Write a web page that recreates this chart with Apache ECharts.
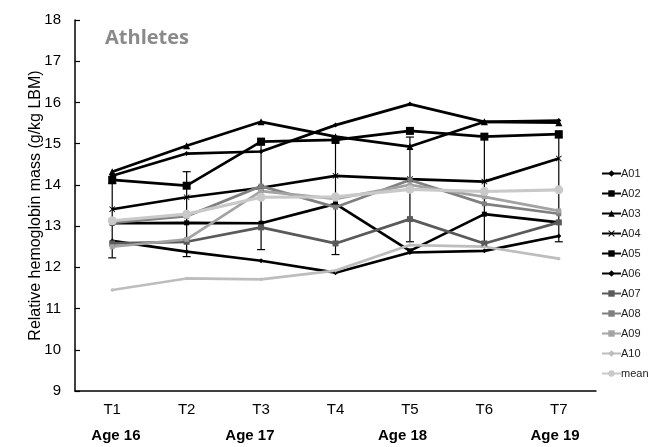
<!DOCTYPE html>
<html>
<head>
<meta charset="utf-8">
<script src="https://cdn.jsdelivr.net/npm/echarts@6/dist/echarts.min.js"></script>
<style>
  html, body { margin: 0; padding: 0; background: #fff; }
  #chart { width: 663px; height: 447px; }
</style>
</head>
<body>
<div id="chart"></div>
<script>
// Test occasions
const timepoints = ['T1', 'T2', 'T3', 'T4', 'T5', 'T6', 'T7'];
// Age captions under the axis and their position in category units
const ageNames = ['Age 16', 'Age 17', 'Age 18', 'Age 19'];
const agePositions = [0.05, 1.85, 3.9, 5.95];

// Relative hemoglobin mass per athlete (g/kg LBM)
const A01 = [14.22, 14.76, 14.81, 15.45, 15.96, 15.53, 15.56];
const A02 = [13.07, 13.08, 13.07, 13.54, 12.40, 13.29, 13.09];
const A03 = [14.32, 14.95, 15.53, 15.17, 14.93, 15.53, 15.51];
const A04 = [13.41, 13.70, 13.93, 14.22, 14.14, 14.08, 14.64];
const A05 = [14.12, 13.98, 15.05, 15.09, 15.31, 15.17, 15.23];
const A06 = [12.64, 12.38, 12.16, 11.87, 12.36, 12.40, 12.76];
const A07 = [12.58, 12.62, 12.97, 12.58, 13.17, 12.58, 13.09];
const A08 = [13.08, 13.24, 13.97, 13.46, 14.12, 13.54, 13.30];
const A09 = [12.50, 12.68, 13.85, 13.66, 14.00, 13.71, 13.37];
const A10 = [11.45, 11.73, 11.71, 11.92, 12.54, 12.50, 12.21];
const meanValues = [13.13, 13.29, 13.70, 13.71, 13.89, 13.84, 13.88];
const meanSD = [0.90, 1.03, 1.27, 1.40, 1.27, 1.35, 1.26];

const yTicks = [9, 18, 1]; // min, max, step

const athleteStyles = [
  ['A01', A01, '#000000', 'diamond', 5],
  ['A02', A02, '#000000', 'rect', 5],
  ['A03', A03, '#000000', 'triangle', 7],
  ['A04', A04, '#000000', 'path://M1,0L5,4L9,0L10,1L6,5L10,9L9,10L5,6L1,10L0,9L4,5L0,1Z', 6],
  ['A05', A05, '#000000', 'rect', 8],
  ['A06', A06, '#000000', 'diamond', 5],
  ['A07', A07, '#5a5a5a', 'path://M0,0H10V3H0Z', 6],
  ['A08', A08, '#7f7f7f', 'rect', 5],
  ['A09', A09, '#a3a3a3', 'rect', 5],
  ['A10', A10, '#bdbdbd', 'diamond', 4]
];

const series = athleteStyles.map(([name, data, color, symbol, size]) => ({
  name, type: 'line', data,
  symbol, symbolSize: size,
  lineStyle: { color, width: 2.7 },
  itemStyle: { color },
  z: 3
}));

series.push({
  name: 'mean', type: 'line', data: meanValues,
  symbol: 'circle', symbolSize: 9,
  lineStyle: { color: '#c9c9c9', width: 3.2 },
  itemStyle: { color: '#c9c9c9' },
  z: 4
});

// Standard deviation whiskers around the mean
series.push({
  name: 'sd', type: 'custom',
  data: meanValues.map((m, i) => [i, m - meanSD[i], m + meanSD[i]]),
  renderItem: function (params, api) {
    const lo = api.coord([api.value(0), api.value(1)]);
    const hi = api.coord([api.value(0), api.value(2)]);
    const w = 4;
    const st = { stroke: '#000', lineWidth: 1.2 };
    return {
      type: 'group',
      children: [
        { type: 'line', shape: { x1: lo[0], y1: lo[1], x2: hi[0], y2: hi[1] }, style: st },
        { type: 'line', shape: { x1: lo[0] - w, y1: lo[1], x2: lo[0] + w, y2: lo[1] }, style: st },
        { type: 'line', shape: { x1: hi[0] - w, y1: hi[1], x2: hi[0] + w, y2: hi[1] }, style: st }
      ]
    };
  },
  z: 2,
  silent: true
});

const chart = echarts.init(document.getElementById('chart'), null, { renderer: 'canvas' });
chart.setOption({
  animation: false,
  backgroundColor: '#fff',
  title: {
    text: 'Athletes',
    left: 100, top: 23,
    textStyle: { fontFamily: 'Open Sans', fontWeight: 'bold', fontSize: 20, color: '#8a8a8a' }
  },
  grid: { left: 75, right: 67, top: 20, bottom: 56 },
  legend: {
    orient: 'vertical',
    left: 596, top: 163,
    itemWidth: 19, itemHeight: 8, itemGap: 9,
    data: athleteStyles.map(s => s[0]).concat(['mean']),
    textStyle: { fontFamily: 'Liberation Sans', fontSize: 11, color: '#222', padding: [0, 0, 0, -5] }
  },
  xAxis: {
    type: 'category',
    data: timepoints,
    boundaryGap: true,
    axisLine: { lineStyle: { color: '#000', width: 1.5 } },
    axisTick: { inside: true, length: 5, lineStyle: { color: '#000', width: 1.2 } },
    axisLabel: { fontFamily: 'Liberation Sans', fontSize: 15, color: '#000', margin: 11 }
  },
  yAxis: {
    type: 'value',
    min: yTicks[0], max: yTicks[1], interval: yTicks[2],
    name: 'Relative hemoglobin mass (g/kg LBM)',
    nameLocation: 'middle', nameGap: 31,
    nameMoveOverlap: false,
    nameTextStyle: { fontFamily: 'Liberation Sans', fontSize: 16, color: '#000' },
    splitLine: { show: false },
    axisLine: { show: true, lineStyle: { color: '#000', width: 1.5 } },
    axisTick: { show: true, inside: true, length: 5, lineStyle: { color: '#000', width: 1.2 } },
    axisLabel: { fontFamily: 'Liberation Sans', fontSize: 15, color: '#000', margin: 14 }
  },
  series
});

// Age captions below the time labels, placed along the category axis
const c0 = chart.convertToPixel({ xAxisIndex: 0 }, 0);
const c1 = chart.convertToPixel({ xAxisIndex: 0 }, 1);
const bottomY = chart.convertToPixel({ yAxisIndex: 0 }, yTicks[0]);
chart.setOption({
  graphic: ageNames.map((t, i) => ({
    type: 'text',
    x: c0 + agePositions[i] * (c1 - c0),
    y: bottomY + 45,
    style: {
      text: t, fontFamily: 'Liberation Sans', fontWeight: 'bold', fontSize: 15,
      fill: '#000', align: 'center', verticalAlign: 'middle'
    }
  }))
});
</script>
</body>
</html>
